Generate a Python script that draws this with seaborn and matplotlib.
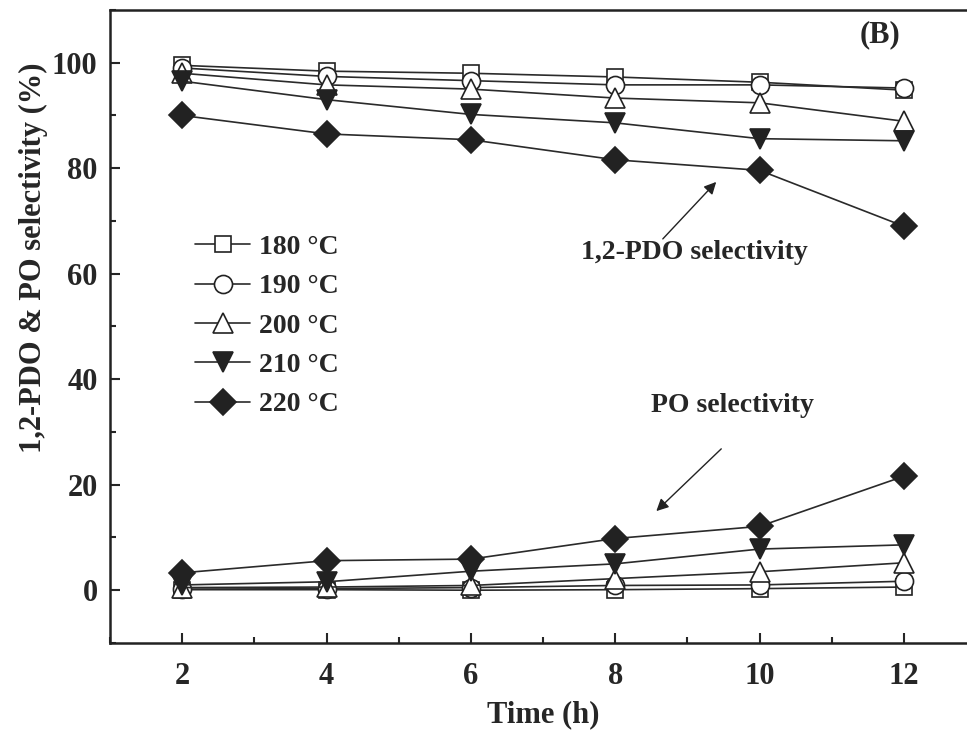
import matplotlib
matplotlib.use("Agg")
import matplotlib.pyplot as plt
import seaborn as sns
import pandas as pd
from matplotlib.ticker import MultipleLocator

# Reaction time (h)
time_h = [2, 4, 6, 8, 10, 12]
temps = ['180 °C', '190 °C', '200 °C', '210 °C', '220 °C']

# 1,2-PDO selectivity (%)
pdo_180 = [99.5, 98.4, 98.0, 97.3, 96.3, 94.8]
pdo_190 = [99.0, 97.4, 96.6, 95.8, 95.8, 95.2]
pdo_200 = [98.0, 95.8, 95.0, 93.3, 92.4, 88.9]
pdo_210 = [96.5, 93.0, 90.2, 88.6, 85.6, 85.2]
pdo_220 = [90.0, 86.5, 85.4, 81.6, 79.6, 69.0]

# PO selectivity (%)
po_180 = [0.1, 0.1, 0.0, 0.1, 0.3, 0.6]
po_190 = [0.2, 0.3, 0.5, 0.9, 1.0, 1.7]
po_200 = [0.5, 0.6, 0.9, 2.2, 3.5, 5.2]
po_210 = [1.0, 1.6, 3.6, 5.0, 7.8, 8.6]
po_220 = [3.3, 5.6, 5.9, 9.8, 12.1, 21.6]

pdo_all = [pdo_180, pdo_190, pdo_200, pdo_210, pdo_220]
po_all = [po_180, po_190, po_200, po_210, po_220]

markers = ['s', 'o', '^', 'v', 'D']
faces = ['white', 'white', 'white', '#222222', '#222222']
sizes = [12, 13, 14, 14, 13]

sns.set_style("ticks")
plt.rcParams['font.family'] = ['Liberation Serif', 'DejaVu Serif']
plt.rcParams['font.weight'] = 'bold'
plt.rcParams['axes.labelweight'] = 'bold'

fig = plt.figure(figsize=(9.67, 7.44), dpi=100)
ax = fig.add_axes([0.1138, 0.1358, 0.8955, 0.8508])

handles = []
for i, t in enumerate(temps):
    for series, lab in ((pdo_all[i], t), (po_all[i], None)):
        df = pd.DataFrame({'Time': time_h, 'Sel': series})
        sns.lineplot(data=df, x='Time', y='Sel', ax=ax, color='#2a2a2a',
                     linewidth=1.2, marker=markers[i], markersize=sizes[i],
                     markerfacecolor=faces[i], markeredgecolor='#222222',
                     markeredgewidth=1.2, label=lab, legend=False)
    handles.append(ax.lines[-2])

ax.set_xlim(1, 13)
ax.set_ylim(-10, 110)
ax.xaxis.set_major_locator(MultipleLocator(2))
ax.xaxis.set_minor_locator(MultipleLocator(1))
ax.yaxis.set_major_locator(MultipleLocator(20))
ax.yaxis.set_minor_locator(MultipleLocator(10))
ax.set_xticks([2, 4, 6, 8, 10, 12])
ax.tick_params(which='major', direction='in', length=7, width=1.5,
               labelsize=22, pad=9)
ax.tick_params(axis='x', which='major', pad=14)
ax.tick_params(which='minor', direction='in', length=4, width=1.5)
for s in ['left', 'bottom', 'top']:
    ax.spines[s].set_linewidth(1.8)
    ax.spines[s].set_color('#222222')
ax.spines['right'].set_visible(False)

ax.set_xlabel('Time (h)', fontsize=22, labelpad=6)
ax.set_ylabel('1,2-PDO & PO selectivity (%)', fontsize=22)
ax.yaxis.set_label_coords(-0.0716, 0.608)

ax.legend(handles=handles, labels=temps, loc='upper left',
          bbox_to_anchor=(0.098, 0.645), frameon=False, fontsize=20,
          handlelength=2.0, handletextpad=0.3, labelspacing=0.5,
          borderpad=0, borderaxespad=0, numpoints=1)

arrow = dict(arrowstyle='-|>', color='#222222', lw=1.0, mutation_scale=18,
             shrinkA=0, shrinkB=0)
ax.text(9.1, 64, '1,2-PDO selectivity', ha='center', va='center',
        fontsize=20, fontweight='bold')
ax.annotate('', xy=(9.40, 77.4), xytext=(8.66, 66.6), arrowprops=arrow)
ax.text(9.62, 35.1, 'PO selectivity', ha='center', va='center',
        fontsize=20, fontweight='bold')
ax.annotate('', xy=(8.57, 15.0), xytext=(9.47, 26.8), arrowprops=arrow)
ax.text(11.67, 105.3, '(B)', ha='center', va='center', fontsize=22,
        fontweight='bold')

fig.savefig('out.png', dpi=100)
